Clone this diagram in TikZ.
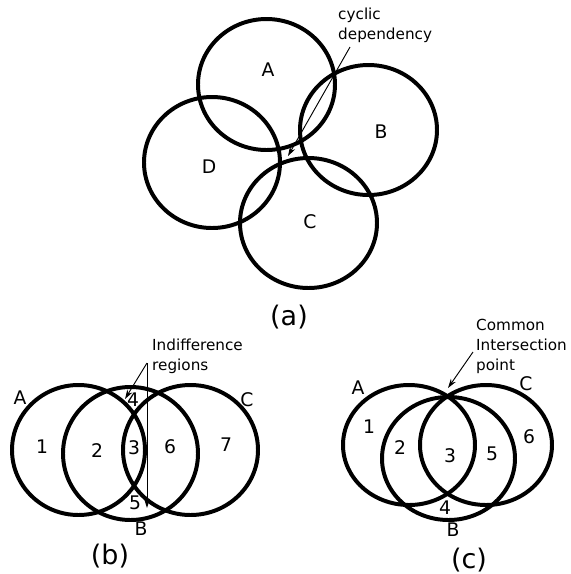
\documentclass[tikz,border=0pt]{standalone}
\usepackage{fontspec}
\setmainfont{DejaVu Sans}
\usetikzlibrary{arrows.meta,positioning}

\begin{document}
\begin{tikzpicture}[x=0.03cm,y=-0.03cm,
  ring/.style={line width=3.4pt},
  lbl/.style={font=\fontsize{16}{18}\selectfont,inner sep=0pt},
  note/.style={font=\fontsize{13}{17}\selectfont,align=left,inner sep=0pt,anchor=north west},
  capt/.style={font=\fontsize{23}{26}\selectfont,inner sep=0pt},
  pointer/.style={-{Stealth[length=8pt,width=5pt]},line width=0.8pt}]
  \useasboundingbox (0,0) rectangle (571,574);

  % (a) four sets in a cycle
  \draw[ring] (266.5,84.5) ellipse [x radius=68.5,y radius=65.5];
  \draw[ring] (368.5,130)  ellipse [x radius=68.5,y radius=65];
  \draw[ring] (212,162.5)  ellipse [x radius=68,y radius=65.5];
  \draw[ring] (308.5,223)  ellipse [x radius=68.5,y radius=65];
  \node[lbl] (aA) at (268,70)  {A};
  \node[lbl] (aB) at (381,132) {B};
  \node[lbl] (aD) at (209,167) {D};
  \node[lbl] (aC) at (310,222) {C};
  \node[note] (cyc) at (338,8) {cyclic\\dependency};
  \coordinate (cycfrom) at (350,47);
  \coordinate (cycto) at (288,156);
  \draw[pointer] (cycfrom) -- (cycto);
  \node[capt] (capa) at (289,317) {(a)};

  % (b) indifference regions
  \draw[ring] (78.5,450)   ellipse [x radius=66.5,y radius=65];
  \draw[ring] (130.5,453.5) ellipse [x radius=67.5,y radius=66.5];
  \draw[ring] (190.5,450)  ellipse [x radius=67.5,y radius=65];
  \node[lbl] (bA) at (20,398)  {A};
  \node[lbl] (bC) at (247,400) {C};
  \node[lbl] (bB) at (141,529) {B};
  \node[lbl] (b1) at (42,447)  {1};
  \node[lbl] (b2) at (97,451)  {2};
  \node[lbl] (b3) at (134,448) {3};
  \node[lbl] (b6) at (170,447) {6};
  \node[lbl] (b7) at (226,445) {7};
  \node[lbl] (b4) at (133,400) {4};
  \node[lbl] (b5) at (135,503) {5};
  \node[note] (ind) at (152,339) {Indifference\\regions};
  \coordinate (fork) at (147,363);
  \coordinate (to4) at (125,399);
  \coordinate (to5) at (147,508);
  \draw[pointer] (fork) -- (to4);
  \draw[pointer] (fork) -- (to5);
  \node[capt] (capb) at (110,556) {(b)};

  % (c) common intersection point
  \draw[ring] (409,445)   ellipse [x radius=66,y radius=60];
  \draw[ring] (448.5,458.5) ellipse [x radius=66.5,y radius=61.5];
  \draw[ring] (486,445)   ellipse [x radius=66,y radius=60];
  \node[lbl] (cA) at (358,388) {A};
  \node[lbl] (cC) at (526,384) {C};
  \node[lbl] (cB) at (453,530) {B};
  \node[lbl] (c1) at (369,427) {1};
  \node[lbl] (c2) at (400,448) {2};
  \node[lbl] (c3) at (450,456) {3};
  \node[lbl] (c5) at (492,454) {5};
  \node[lbl] (c6) at (529,437) {6};
  \node[lbl] (c4) at (445,508) {4};
  \node[note] (cip) at (476,319) {Common\\Intersection\\point};
  \coordinate (cipfrom) at (473,352);
  \coordinate (cipto) at (448,388);
  \draw[pointer] (cipfrom) -- (cipto);
  \node[capt] (capc) at (469,560) {(c)};
\end{tikzpicture}
\end{document}
